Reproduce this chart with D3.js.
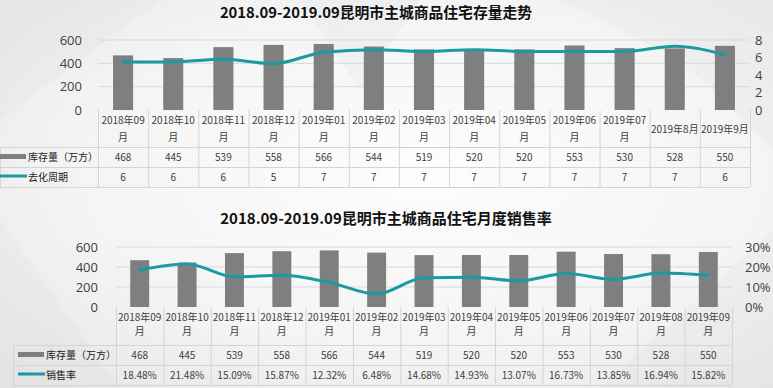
<!DOCTYPE html>
<html>
<head>
<meta charset="utf-8">
<script src="https://cdn.jsdelivr.net/npm/d3@7"></script>
<style>
  body { margin: 0; }
  svg { display: block; font-family: "Noto Sans CJK SC", "Noto Sans", sans-serif; }
</style>
</head>
<body>
<div id="chart-area"></div>
<script>
// data
var monthsTop = ["2018年09月", "2018年10月", "2018年11月", "2018年12月", "2019年01月", "2019年02月",
  "2019年03月", "2019年04月", "2019年05月", "2019年06月", "2019年07月", "2019年8月", "2019年9月"];
var monthsBottom = ["2018年09月", "2018年10月", "2018年11月", "2018年12月", "2019年01月", "2019年02月",
  "2019年03月", "2019年04月", "2019年05月", "2019年06月", "2019年07月", "2019年08月", "2019年09月"];
var stock = [468, 445, 539, 558, 566, 544, 519, 520, 520, 553, 530, 528, 550];
var cycle = [5.5, 5.5, 5.8, 5.3, 6.6, 6.9, 6.7, 6.9, 6.7, 6.7, 6.7, 7.3, 6.3];
var salesRate = [18.48, 21.48, 15.09, 15.87, 12.32, 6.48, 14.68, 14.93, 13.07, 16.73, 13.85, 16.94, 15.82];
var stockTicks = [0, 200, 400, 600];
var cycleTicks = [0, 2, 4, 6, 8];
var rateTicks = [0, 10, 20, 30];

var W = 773, H = 388;
var barColor = "#7f7f7f";
var lineColor = "#1b9aa0";
var gridColor = "#d9d9d9";
var cellColor = "#d4d4d4";
var textColor = "#404040";

var svg = d3.select("#chart-area").append("svg")
    .attr("width", W)
    .attr("height", H);

// background
var defs = svg.append("defs");
var grad = defs.append("radialGradient")
    .attr("id", "bg")
    .attr("cx", "55%").attr("cy", "45%").attr("r", "75%");
grad.append("stop").attr("offset", "0%").attr("stop-color", "#fdfdfd");
grad.append("stop").attr("offset", "60%").attr("stop-color", "#f4f4f4");
grad.append("stop").attr("offset", "100%").attr("stop-color", "#e6e6e6");
svg.append("rect").attr("width", W).attr("height", H).attr("fill", "url(#bg)");

var shapes = [
  [[0, 0], [160, 0], [0, 120]],
  [[560, 0], [773, 0], [773, 150], [680, 60]],
  [[0, 220], [120, 388], [0, 388]],
  [[600, 388], [773, 230], [773, 388]],
  [[300, 0], [420, 0], [360, 90]]
];
svg.selectAll(".shape")
  .data(shapes)
  .enter().append("polygon")
    .attr("class", "shape")
    .attr("points", d => d.map(p => p.join(",")).join(" "))
    .attr("fill", "#d8d8d8")
    .attr("opacity", 0.18);

function splitLabel(s) {
  if (s.length > 7) return [s.slice(0, s.length - 1), s.slice(s.length - 1)];
  return [s];
}

function drawPanel(cfg) {
  var g = svg.append("g");
  var n = cfg.cats.length;

  var x = d3.scaleBand()
    .domain(cfg.cats)
    .range([cfg.x0, cfg.x1])
    .paddingInner(0.6)
    .paddingOuter(0.3);
  var col = d3.scaleBand()
    .domain(cfg.cats)
    .range([cfg.x0, cfg.x1]);

  var y = d3.scaleLinear().domain([0, 600]).range([cfg.yBase, cfg.yTop]);
  var y2 = d3.scaleLinear().domain(cfg.y2Domain).range([cfg.yBase, cfg.yTop]);

  // title
  g.append("text")
    .attr("x", cfg.titleX)
    .attr("y", cfg.titleY)
    .attr("text-anchor", "middle")
    .attr("font-size", cfg.titleSize + "px")
    .attr("font-weight", "bold")
    .attr("fill", "#111")
    .text(cfg.title);

  // grid
  g.selectAll(".grid")
    .data(stockTicks.filter(d => d > 0))
    .enter().append("line")
      .attr("x1", cfg.x0).attr("x2", cfg.x1)
      .attr("y1", d => y(d)).attr("y2", d => y(d))
      .attr("stroke", gridColor)
      .attr("stroke-width", 1);

  // left axis
  var yAxis = g.append("g")
    .attr("transform", "translate(" + cfg.leftX + ",0)")
    .call(d3.axisLeft(y).tickValues(stockTicks).tickSize(0).tickPadding(0));
  yAxis.select(".domain").remove();
  yAxis.selectAll("text")
    .attr("font-size", "13px")
    .attr("fill", "#404040")
    .attr("font-family", "'Open Sans', 'Noto Sans', sans-serif");

  // right axis
  var y2Axis = g.append("g")
    .attr("transform", "translate(" + cfg.rightX + ",0)")
    .call(d3.axisRight(y2).tickValues(cfg.y2Ticks).tickSize(0).tickPadding(0).tickFormat(cfg.y2Format));
  y2Axis.select(".domain").remove();
  y2Axis.selectAll("text")
    .attr("font-size", "13px")
    .attr("fill", "#404040")
    .attr("font-family", "'Open Sans', 'Noto Sans', sans-serif");

  // bars
  g.selectAll(".bar")
    .data(stock)
    .enter().append("rect")
      .attr("x", (d, i) => x(cfg.cats[i]))
      .attr("width", x.bandwidth())
      .attr("y", d => y(d))
      .attr("height", d => cfg.yBase - y(d))
      .attr("fill", barColor);

  // line
  var line = d3.line()
    .x((d, i) => col(cfg.cats[i]) + col.bandwidth() / 2)
    .y(d => y2(d))
    .curve(d3.curveMonotoneX);
  g.append("path")
    .datum(cfg.lineData)
    .attr("d", line)
    .attr("fill", "none")
    .attr("stroke", lineColor)
    .attr("stroke-width", 3)
    .attr("stroke-linecap", "round");

  // table
  var r0 = cfg.yBase, r1 = cfg.rows[0], r2 = cfg.rows[1], r3 = cfg.rows[2];
  var cells = g.append("g").attr("stroke", cellColor).attr("stroke-width", 1);
  [r1, r2, r3].forEach(function(ry) {
    cells.append("line")
      .attr("x1", cfg.legendX).attr("x2", cfg.x1)
      .attr("y1", ry + 0.5).attr("y2", ry + 0.5);
  });
  cells.append("line")
    .attr("x1", cfg.legendX + 0.5).attr("x2", cfg.legendX + 0.5)
    .attr("y1", r1).attr("y2", r3);
  d3.range(n + 1).forEach(function(i) {
    var cx = i < n ? col(cfg.cats[i]) : cfg.x1;
    cells.append("line")
      .attr("x1", cx + 0.5).attr("x2", cx + 0.5)
      .attr("y1", r0).attr("y2", r3);
  });

  // header labels
  cfg.cats.forEach(function(c, i) {
    var parts = splitLabel(c);
    var cx = col(c) + col.bandwidth() / 2;
    var t = g.append("text")
      .attr("text-anchor", "middle")
      .attr("font-size", "10px")
      .attr("fill", textColor);
    if (parts.length === 2) {
      t.append("tspan").attr("x", cx).attr("y", cfg.headY[0]).text(parts[0]);
      t.append("tspan").attr("x", cx).attr("y", cfg.headY[1]).text(parts[1]);
    } else {
      t.attr("x", cx).attr("y", (cfg.headY[0] + cfg.headY[1]) / 2).text(parts[0]);
    }
  });

  // row values
  g.selectAll(".v1")
    .data(stock)
    .enter().append("text")
      .attr("x", (d, i) => col(cfg.cats[i]) + col.bandwidth() / 2)
      .attr("y", (r1 + r2) / 2 + 3.5)
      .attr("text-anchor", "middle")
      .attr("font-size", "10px")
      .attr("fill", textColor)
      .text(d => d);
  g.selectAll(".v2")
    .data(cfg.lineData)
    .enter().append("text")
      .attr("x", (d, i) => col(cfg.cats[i]) + col.bandwidth() / 2)
      .attr("y", (r2 + r3) / 2 + 3.5)
      .attr("text-anchor", "middle")
      .attr("font-size", "10px")
      .attr("fill", textColor)
      .text(cfg.rowFormat);

  // legend keys
  g.append("rect")
    .attr("x", cfg.keyX).attr("y", (r1 + r2) / 2 - 3)
    .attr("width", 26).attr("height", 5)
    .attr("fill", barColor);
  g.append("line")
    .attr("x1", cfg.keyX).attr("x2", cfg.keyX + 27)
    .attr("y1", (r2 + r3) / 2 - 1).attr("y2", (r2 + r3) / 2 - 1)
    .attr("stroke", lineColor)
    .attr("stroke-width", 3);
  g.append("text")
    .attr("x", cfg.keyX + 28).attr("y", (r1 + r2) / 2 + 3.5)
    .attr("font-size", "10px")
    .attr("fill", "#222")
    .text("库存量（万方）");
  g.append("text")
    .attr("x", cfg.keyX + 28).attr("y", (r2 + r3) / 2 + 3.5)
    .attr("font-size", "10px")
    .attr("fill", "#222")
    .text(cfg.lineName);
}

drawPanel({
  title: "2018.09-2019.09昆明市主城商品住宅存量走势",
  titleX: 376, titleY: 18, titleSize: 14.8,
  cats: monthsTop,
  x0: 98, x1: 750,
  yBase: 110, yTop: 40,
  leftX: 82, rightX: 755,
  y2Domain: [0, 8], y2Ticks: cycleTicks, y2Format: d3.format("d"),
  lineData: cycle, lineName: "去化周期",
  rowFormat: d => Math.round(d),
  rows: [147, 167, 187],
  headY: [124, 141],
  legendX: 0, keyX: 0
});

drawPanel({
  title: "2018.09-2019.09昆明市主城商品住宅月度销售率",
  titleX: 386, titleY: 224, titleSize: 15,
  cats: monthsBottom,
  x0: 116, x1: 732,
  yBase: 307, yTop: 247,
  leftX: 98, rightX: 745,
  y2Domain: [0, 30], y2Ticks: rateTicks, y2Format: d => d + "%",
  lineData: salesRate, lineName: "销售率",
  rowFormat: d => d.toFixed(2) + "%",
  rows: [345, 365, 385],
  headY: [321, 335],
  legendX: 13, keyX: 18
});
</script>
</body>
</html>
